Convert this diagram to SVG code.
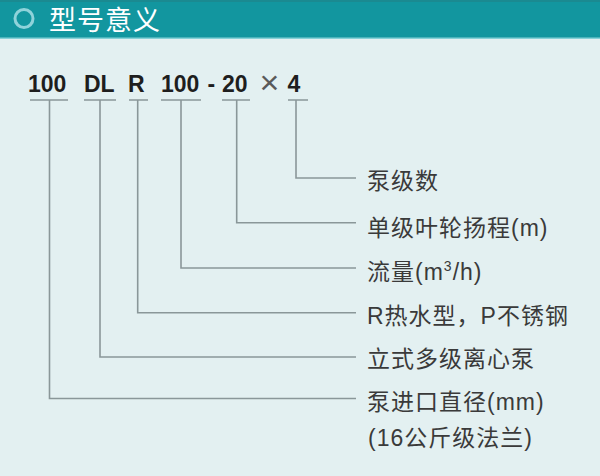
<svg xmlns="http://www.w3.org/2000/svg" width="600" height="476" viewBox="0 0 600 476">
<style>
.code{font-family:"Liberation Sans",Arial,sans-serif;font-weight:bold;font-size:23px;fill:#1e1e1e}
.lbl{font-family:"Liberation Sans","Noto Sans CJK SC",sans-serif;font-size:23px;fill:#3a3a3a;letter-spacing:1px}
.title{font-family:"Noto Sans CJK SC",sans-serif;font-size:27px;fill:#ffffff;letter-spacing:1px}
.conn{fill:none;stroke:#8a9799;stroke-width:1.6}
</style>
<rect x="0" y="0" width="600" height="476" fill="#e3f0f1"/>
<g id="header">
<rect x="0" y="0" width="600" height="38" fill="#12969f"/>
<rect x="0" y="0" width="600" height="2" fill="#1a8a91"/>
<rect x="0" y="37.5" width="600" height="1.5" fill="#86d2d8"/>
<circle cx="24" cy="18.5" r="9" fill="none" stroke="#8fd3da" stroke-width="3"/>
<text class="title" x="49" y="30">型号意义</text>
</g>
<g id="code">
<g id="c-100"><text class="code" x="28" y="91.5">100</text></g>
<g id="c-DL"><text class="code" x="84" y="91.5">DL</text></g>
<g id="c-R"><text class="code" x="128" y="91.5">R</text></g>
<g id="c-flow"><text class="code" x="161" y="91.5">100</text></g>
<g id="c-dash"><text class="code" x="207.5" y="91.5">-</text></g>
<g id="c-20"><text class="code" x="222" y="91.5">20</text></g>
<g id="c-x"><text x="269.5" y="93.5" text-anchor="middle" style="font-family:'Liberation Sans',sans-serif;font-size:34px;fill:#5a5a5a">×</text></g>
<g id="c-4"><text class="code" x="287.5" y="91.5">4</text></g>
</g>
<g id="connectors">
<path class="conn" d="M30 100H68M49.5 100V398.5H356"/>
<path class="conn" d="M84 100H116M100 100V357H356"/>
<path class="conn" d="M129 100H148M137.7 100V312.7H356"/>
<path class="conn" d="M161 100H201M181 100V268H356"/>
<path class="conn" d="M222 100H250M236.7 100V222.7H356"/>
<path class="conn" d="M288 100H308M296 100V178H356"/>
</g>
<g id="l-stages"><text class="lbl" x="367" y="188.5">泵级数</text></g>
<g id="l-head"><text class="lbl" x="367" y="235.5">单级叶轮扬程(m)</text></g>
<g id="l-flow"><text class="lbl" x="367" y="279.5">流量(m<tspan font-size="14" dy="-9">3</tspan><tspan dy="9">/h)</tspan></text></g>
<g id="l-type"><text class="lbl" x="367" y="323.5">R热水型，P不锈钢</text></g>
<g id="l-pump"><text class="lbl" x="367" y="366.5">立式多级离心泵</text></g>
<g id="l-inlet"><text class="lbl" x="367" y="409.5">泵进口直径(mm)</text>
<text class="lbl" x="368" y="445.5">(16公斤级法兰)</text></g>
</svg>
